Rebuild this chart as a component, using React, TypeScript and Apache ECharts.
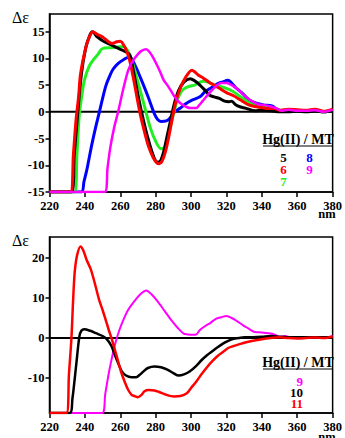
import React, { useEffect, useRef } from "react";
import * as echarts from "echarts";

// ---- Data (wavelength nm, Δε) ----
const xTicks = [220, 240, 260, 280, 300, 320, 340, 360, 380];
const topYTicks = [-15, -10, -5, 0, 5, 10, 15];
const bottomYTicks = [-10, 0, 10, 20];
const topYRange = [-15, 18.3];
const bottomYRange = [-18.75, 25.25];

const top5 = [[220,-15],[232.5,-15],[234,-8],[235.5,-2],[238,7],[240.5,12],[243,14.5],[244.3,15],[247,14],[250,13.3],[255,12.5],[258,12],[262.7,11.3],[265.4,10.6],[267.5,7.5],[269.5,4],[272,0],[274.5,-3.5],[277,-6.5],[279,-8.5],[281,-9.4],[282.5,-9.3],[284.5,-7.5],[286.5,-4.5],[288.5,-1.5],[290.5,1.5],[293,4],[296,5.6],[299.5,6.2],[302,5.8],[305,5],[308,4],[310.5,3.1],[313,2.8],[316,2.5],[319,2],[321.5,1.9],[323,2],[325.2,1.3],[328,0.9],[330.7,0.7],[336.2,0.2],[340,0.3],[345,0.2],[350,0],[355,0],[360,0.1],[365,0],[370,0.1],[375,0],[380,0.2]];
const top6 = [[220,-15],[231.8,-15],[233.5,-8],[235,-1.5],[236.5,3],[237.5,7],[240.5,12],[242.5,14],[244.5,15],[247,14.5],[250,14],[253,13.2],[255.3,12.8],[258,13.1],[260,13.2],[262.7,12],[265,10],[267,7],[269,3.5],[271,0],[273.5,-3.5],[276,-6.5],[278.5,-8.5],[280.5,-9.5],[282,-9.7],[283.5,-9.3],[285.5,-7.5],[287.5,-4.5],[289.5,-1],[291.5,2],[294,4.5],[297,6.5],[300.4,7.8],[302,7.5],[304,6.9],[307,6.3],[310,5.6],[313,5],[316,4.4],[320,3.6],[324,3],[328,2.2],[332,1.4],[336,1],[340,0.8],[344,0.6],[347,0.6],[350,0.3],[355,0.5],[360,0.4],[365,0.3],[370,0.5],[375,0.1],[380,0.5]];
const top7 = [[220,-15],[234.2,-15],[235.5,-8],[236.9,-0.3],[238.5,3.5],[239.7,5.9],[242.5,8.6],[245.2,9.9],[247.5,10.8],[249.8,11.8],[255,12],[261.8,12.2],[264,11.5],[266,10],[268.2,7.7],[270,5.5],[273.7,1],[277,-3],[280,-5.5],[283,-6.9],[285.5,-6.5],[287.5,-4],[290,-0.5],[292,2],[295,4],[298.5,4.7],[302,5],[306.8,5.7],[310,5.5],[313,5],[318,4.6],[323.3,3.9],[327,3],[330.7,2.2],[334,1.5],[338,0.9],[342,0.8],[346,0.6],[350,0.3],[355,0.2],[360,0.2],[370,0.2],[375,0],[380,0.3]];
const top8 = [[220,-15],[237.9,-15],[239.5,-13],[241,-11],[242.5,-8.5],[244,-6],[246,-3],[248,-0.3],[250,2.5],[251.8,4.8],[253.5,6.3],[256,8],[259,9.1],[262,9.8],[265.4,10.3],[267,9.6],[268.5,8.6],[270,7.5],[272.5,5.5],[275.5,3],[277.5,1.2],[279.3,-0.4],[281,-1.4],[283,-1.8],[286,-1.7],[288,-1.2],[290.6,0],[294,0.7],[297,1.5],[300,2.1],[305,2.8],[308,3.8],[312.4,4.7],[316,5.4],[318,5.6],[320.6,5.9],[322,5.7],[325,4.6],[328.9,3.5],[331.5,2.6],[334.4,1.9],[338,1.5],[341,1.3],[345.7,1.1],[348,0.6],[350,0.3],[353,0.2],[355,0.1],[360,0.1],[365,0.2],[370,0.3],[375,0],[380,0.3]];
const top9 = [[220,-15],[251.3,-15],[252.8,-10.5],[254.4,-6.6],[256.5,-3],[259,0.3],[261.5,4],[264.5,7.8],[267,9.5],[270,10.8],[272,11.4],[274.6,11.7],[276.5,11.2],[278.5,10.2],[280.5,8.9],[282.5,7.5],[284.6,5.9],[286.6,5],[288.5,4],[291,2.7],[294,1.6],[297.4,0.9],[300,0.7],[303,0.7],[304.5,1.2],[306.5,2],[309,3],[312,4.1],[316,5.3],[318,5.4],[320,5.4],[323,5],[326,4.3],[329,3.4],[332,2.5],[335,1.9],[338,1.4],[341,1.3],[345,1],[348,0.7],[351,0.2],[355,0.4],[360,0.2],[365,0.2],[370,0.3],[375,0],[380,0.4]];

const bot9 = [[220,-18.75],[249.8,-18.75],[251.5,-14],[253.5,-8.8],[255.5,-4.5],[257.2,-1.3],[259.5,2],[261.8,4.6],[264,6.7],[266.4,8.3],[269,9.8],[271.5,11],[274.6,11.9],[277.5,11],[281,9.2],[285,6.8],[289.3,4.2],[292.5,2.5],[295.8,1.1],[298,0.9],[301.3,0.8],[303,0.9],[305,2],[308,3],[311,3.8],[314,4.8],[317,5.2],[320,5.5],[323,5],[326,4.2],[329,3.3],[332,2.5],[336,1.5],[340,1.4],[344,1.2],[347,0.9],[350,0.3],[353,0.5],[356,0.2],[360,0.1],[365,0.2],[370,0.2],[375,0.1],[380,0.5]];
const bot10 = [[220,-18.75],[231.4,-18.75],[233,-15],[234.2,-10.4],[235.5,-5],[236.9,0.4],[238,1.8],[239.7,2.2],[243,1.8],[246.2,1.2],[250,0.5],[252.6,-0.4],[255,-2],[257.2,-4.6],[259,-6.5],[260.8,-8.3],[263,-9.3],[266.4,-9.8],[269,-9.8],[271,-9.2],[273,-8.4],[275.6,-7.5],[279.3,-7.1],[283,-7.3],[286.6,-7.9],[290,-8.8],[293,-9.4],[296,-9.1],[299.4,-8.3],[303.1,-6.9],[306,-5.5],[309,-4.3],[312,-3.3],[315,-2.3],[318,-1.4],[321,-0.7],[324,-0.2],[327,0],[330,0.2],[335,0.2],[340,0.3],[345,0.5],[350,0.3],[355,0.2],[360,0.2],[370,0.2],[380,0.2]];
const bot11 = [[220,-18.75],[229.6,-18.75],[231,-9],[232.4,0],[233.3,9],[234.2,16.2],[235.5,20.5],[237.5,22.9],[239,22],[241,19.5],[243.4,17.1],[246,13],[248,9.6],[250,7],[251.7,4.6],[253.5,2],[255.3,-0.4],[258,-4.6],[260.5,-8.5],[262.7,-11.2],[264.5,-13],[266.4,-14.2],[268,-14.5],[270,-14.8],[272,-14.2],[273.7,-13.3],[276,-13],[279.3,-13.1],[282,-13.5],[286,-14.2],[290.3,-14.6],[294,-14.5],[297.6,-13.8],[300,-12.5],[303.1,-10.8],[306,-9],[309,-7.3],[312,-5.8],[315,-4.5],[318,-3.5],[321,-2.5],[324,-2],[327,-1.6],[330,-1.2],[335,-0.7],[340,-0.3],[345,0],[350,0.2],[355,0],[360,-0.1],[365,0],[370,0.1],[375,0],[380,0.3]];

const legendTitle = "Hg(II) / MT";
const yTitle = "Δε";
const xUnit = "nm";

const FONT = "Liberation Serif";

export default function App() {
  const ref = useRef<HTMLDivElement>(null);
  useEffect(() => {
    document.body.style.margin = "0";
    const chart = echarts.init(ref.current!, null, { renderer: "svg" });
    const xAxisBase = (gridIndex: number) => ({
      type: "value",
      gridIndex,
      min: 220,
      max: 380,
      interval: 20,
      axisLine: { show: true, onZero: false, lineStyle: { color: "#000", width: 1.5 } },
      axisTick: { show: true, inside: false, length: 5, lineStyle: { color: "#000", width: 1.5 } },
      axisLabel: {
        margin: 7,
        color: "#000",
        fontFamily: FONT,
        fontWeight: "bold",
        fontSize: 12.5,
        customValues: xTicks,
      },
      splitLine: { show: false },
    });
    const yAxisBase = (gridIndex: number, range: number[], ticks: number[]) => ({
      type: "value",
      gridIndex,
      min: range[0],
      max: range[1],
      axisLine: { show: true, onZero: false, lineStyle: { color: "#000", width: 1.5 } },
      axisTick: { show: true, inside: false, length: 4, customValues: ticks, lineStyle: { color: "#000", width: 1.5 } },
      axisLabel: {
        margin: 5,
        color: "#000",
        fontFamily: FONT,
        fontWeight: "bold",
        fontSize: 12.5,
        customValues: ticks,
      },
      splitLine: { show: false },
    });
    const line = (data: number[][], color: string, xi: number, width: number, z = 2) => ({
      type: "line",
      data,
      xAxisIndex: xi,
      yAxisIndex: xi,
      showSymbol: false,
      symbol: "none",
      smooth: 0.3,
      clip: true,
      z,
      lineStyle: { color, width },
    });
    const zeroLine = (xi: number) => ({
      type: "line",
      data: [[220, 0], [380, 0]],
      xAxisIndex: xi,
      yAxisIndex: xi,
      showSymbol: false,
      symbol: "none",
      z: 1,
      lineStyle: { color: "#000", width: 2 },
    });
    const t = (text: string, x: number, y: number, color: string, size = 13, align = "center", weight = "bold") => ({
      type: "text",
      x,
      y,
      style: {
        text,
        fill: color,
        fontFamily: FONT,
        fontWeight: weight,
        fontSize: size,
        textAlign: align,
        textVerticalAlign: "middle",
      },
    });
    chart.setOption({
      animation: false,
      backgroundColor: "#fff",
      grid: [
        { left: 49.5, top: 14, width: 290.5, height: 178, show: true, borderColor: "#000", borderWidth: 1.5, backgroundColor: "transparent" },
        { left: 49.5, top: 237, width: 290.5, height: 176, show: true, borderColor: "#000", borderWidth: 1.5, backgroundColor: "transparent" },
      ],
      xAxis: [xAxisBase(0), xAxisBase(1)],
      yAxis: [yAxisBase(0, topYRange, topYTicks), yAxisBase(1, bottomYRange, bottomYTicks)],
      series: [
        zeroLine(0),
        line(top8, "#0000ff", 0, 3, 2),
        line(top7, "#22ee22", 0, 3, 3),
        line(top5, "#000000", 0, 3, 4),
        line(top6, "#ff0000", 0, 3, 5),
        line(top9, "#ff00ff", 0, 2.5, 6),
        zeroLine(1),
        line(bot9, "#ff00ff", 1, 2, 2),
        line(bot10, "#000000", 1, 2.5, 3),
        line(bot11, "#ff0000", 1, 2.5, 4),
      ],
      graphic: [
        t(yTitle, 12, 17, "#000", 16, "left", "normal"),
        t(yTitle, 12, 240, "#000", 16, "left", "normal"),
        t(xUnit, 327, 214, "#000", 12.5),
        t(xUnit, 327, 437, "#000", 12.5),
        t(legendTitle, 298, 139, "#000", 14),
        { type: "line", shape: { x1: 263, y1: 146, x2: 333, y2: 146 }, style: { stroke: "#000", lineWidth: 1 } },
        t("5", 283.5, 157, "#000"),
        t("8", 309.5, 157, "#0000ff"),
        t("6", 283.5, 169, "#ff0000"),
        t("9", 309.5, 169, "#ff00ff"),
        t("7", 283.5, 181, "#22ee22"),
        t(legendTitle, 298, 362, "#000", 14),
        { type: "line", shape: { x1: 263, y1: 369, x2: 333, y2: 369 }, style: { stroke: "#000", lineWidth: 1 } },
        t("9", 303, 381, "#ff00ff", 13, "right"),
        t("10", 303, 392, "#000", 13, "right"),
        t("11", 303, 403, "#ff0000", 13, "right"),
      ],
    });
    return () => chart.dispose();
  }, []);
  return <div ref={ref} style={{ width: 345, height: 438 }} />;
}
